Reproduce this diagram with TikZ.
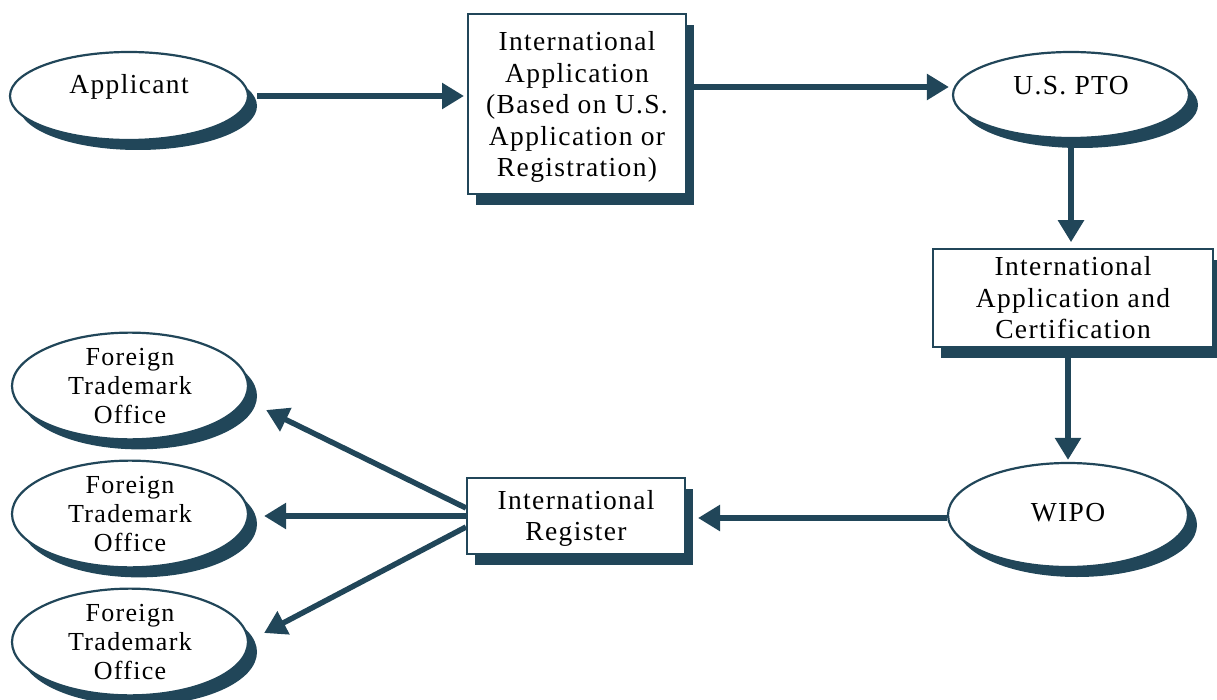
\documentclass[tikz,border=0pt]{standalone}
\usepackage{fontspec}
\setmainfont{Liberation Serif}[LetterSpace=5]
\usetikzlibrary{arrows.meta,shapes.geometric,shadows}
\definecolor{deep}{RGB}{33,70,89}
\begin{document}
\begin{tikzpicture}[x=1pt,y=-1pt,
  oval/.style={ellipse, draw=deep, line width=2.2pt, fill=white, inner sep=0pt,
    align=center, font=\fontsize{27.5}{31.5}\selectfont,
    drop shadow={shadow xshift=9pt, shadow yshift=-10pt, fill=deep, opacity=1}},
  foreign/.style={oval, minimum width=236pt, minimum height=104pt,
    font=\fontsize{26}{29}\selectfont},
  box/.style={rectangle, draw=deep, line width=2pt, fill=white, inner sep=0pt,
    align=center, font=\fontsize{27.5}{31.5}\selectfont,
    drop shadow={shadow xshift=8pt, shadow yshift=-11pt, fill=deep, opacity=1}},
  arr/.style={draw=deep, line width=5.5pt, -{Triangle[length=22pt,width=25pt]}}]
\useasboundingbox (0,0) rectangle (1217,700);

\node[oval, minimum width=238pt, minimum height=88pt, text height=20pt, text depth=24pt] (app) at (129,96) {Applicant};
\node[oval, minimum width=236pt, minimum height=86pt, text height=20pt, text depth=21pt] (pto) at (1071,95) {U.S. PTO};
\node[oval, minimum width=240pt, minimum height=104pt, text height=20pt, text depth=7pt] (wipo) at (1068,515) {WIPO};

\node[box, minimum width=218pt, minimum height=180pt, text depth=-3pt] (b1) at (577,104)
  {International\\Application\\(Based on U.S.\\Application or\\Registration)};
\node[box, line width=1.6pt, minimum width=280pt, minimum height=98pt] (b2) at (1073,298)
  {International\\Application and\\Certification};
\node[box, minimum width=218pt, minimum height=76pt, text depth=1pt] (b3) at (576,516)
  {International\\Register};

\node[foreign] (f1) at (130,386) {Foreign\\Trademark\\Office};
\node[foreign] (f2) at (130,514) {Foreign\\Trademark\\Office};
\node[foreign] (f3) at (130,642) {Foreign\\Trademark\\Office};

\coordinate (b1out) at ([yshift=17pt]b1.east);
\coordinate (wipoout) at ([yshift=-3pt]wipo.west);
\draw[arr, shorten >=3pt] ([xshift=8pt]app.east) -- (b1.west |- app.east);
\draw[arr, shorten >=3pt] (b1out) -- (pto.west |- b1out);
\draw[arr, shorten >=6pt] (pto.south) -- (pto.south |- b2.north);
\draw[arr, shorten >=2pt] (wipo.north |- b2.south) -- (wipo.north);
\draw[arr, shorten >=12pt] (wipoout) -- (b3.east |- wipoout);
\draw[arr] ([yshift=8pt]b3.west) -- ([xshift=17pt,yshift=-24pt]f1.east);
\draw[arr] (b3.west) -- ([xshift=15pt,yshift=-2pt]f2.east);
\draw[arr] ([yshift=-11pt]b3.west) -- ([xshift=15pt,yshift=9pt]f3.east);
\end{tikzpicture}
\end{document}
